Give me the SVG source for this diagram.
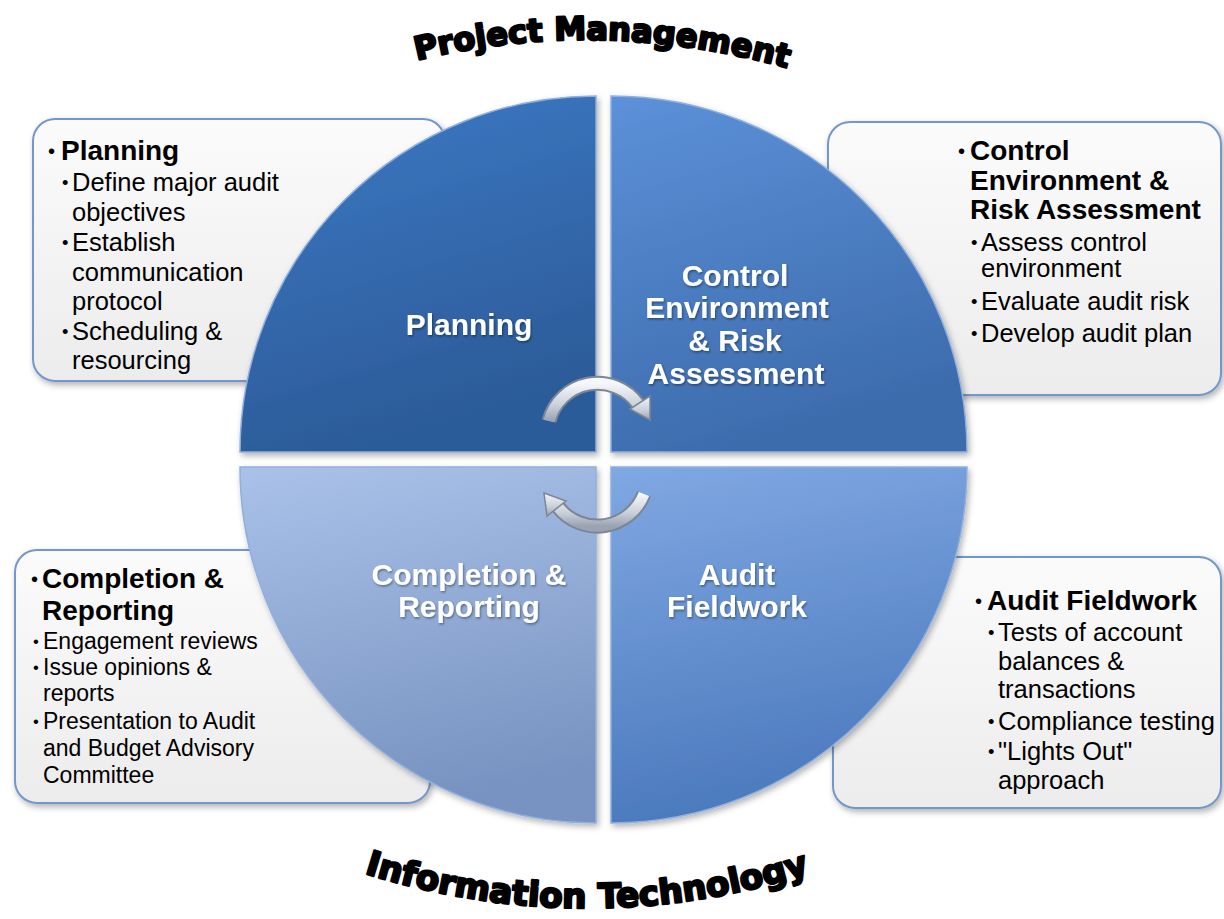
<svg xmlns="http://www.w3.org/2000/svg" width="1224" height="919" viewBox="0 0 1224 919">
<defs>
<style>
.box{stroke:#7397cb;stroke-width:2;fill:url(#boxg);filter:url(#sh)}
.h{font-family:"Liberation Sans",Arial,sans-serif;font-weight:bold;font-size:28px;fill:#000}
.s{font-family:"Liberation Sans",Arial,sans-serif;font-size:25.5px;fill:#000}
.s2{font-family:"Liberation Sans",Arial,sans-serif;font-size:23px;fill:#000}
.b{font-size:0.72em;font-weight:normal;baseline-shift:2px}
.q{font-family:"Liberation Sans",Arial,sans-serif;font-weight:bold;font-size:30px;fill:#fff;text-anchor:middle;filter:url(#tsh)}
.quad{stroke:#8fb0de;stroke-width:1.5;filter:url(#sh)}
.title{font-family:"DejaVu Sans",Verdana,sans-serif;font-weight:bold;fill:#000;stroke:#000;stroke-width:2.4;stroke-linejoin:round;text-anchor:middle}
.arr{fill:none;stroke:#7c8696;stroke-width:15}
.arri{fill:none;stroke:url(#ag);stroke-width:11}
.ah{fill:url(#ag);stroke:#7c8696;stroke-width:1.5}
</style>
<linearGradient id="boxg" x1="0" y1="0" x2="0" y2="1"><stop offset="0" stop-color="#fbfbfb"/><stop offset="1" stop-color="#ececec"/></linearGradient>
<linearGradient id="gTL" x1="0" y1="0" x2="0.3" y2="1"><stop offset="0" stop-color="#3d7ac5"/><stop offset="1" stop-color="#2c5b99"/></linearGradient>
<linearGradient id="gTR" x1="0" y1="0" x2="0.3" y2="1"><stop offset="0" stop-color="#5c91d9"/><stop offset="1" stop-color="#3d6cad"/></linearGradient>
<linearGradient id="gBL" x1="0" y1="0" x2="0.2" y2="1"><stop offset="0" stop-color="#aac2e9"/><stop offset="1" stop-color="#7893c1"/></linearGradient>
<linearGradient id="gBR" x1="0" y1="0" x2="0.2" y2="1"><stop offset="0" stop-color="#80a8e2"/><stop offset="1" stop-color="#4b79bd"/></linearGradient>
<linearGradient id="ag" x1="0" y1="0" x2="0" y2="1"><stop offset="0" stop-color="#f6f7fa"/><stop offset="0.6" stop-color="#c9cfd9"/><stop offset="1" stop-color="#9aa3b2"/></linearGradient>
<filter id="sh" x="-10%" y="-10%" width="125%" height="125%"><feDropShadow dx="2" dy="3" stdDeviation="3" flood-color="#000" flood-opacity="0.3"/></filter>
<filter id="tsh" x="-10%" y="-20%" width="125%" height="150%"><feDropShadow dx="1" dy="1.5" stdDeviation="1" flood-color="#000" flood-opacity="0.4"/></filter>
<path id="arcTop" d="M 410 62 Q 600 14 794 70"/>
<path id="arcBot" d="M 348 868 Q 588 948 826 868"/>
</defs>

<g id="title-top"><text class="title" font-size="32"><textPath href="#arcTop" startOffset="50%">Project Management</textPath></text></g>
<g id="title-bottom"><text class="title" font-size="34"><textPath href="#arcBot" startOffset="50%">Information Technology</textPath></text></g>

<g id="box-planning">
<rect class="box" x="33" y="119" width="412" height="262" rx="22"/>
<text class="h" y="160"><tspan class="b" x="48">•</tspan><tspan x="61">Planning</tspan></text>
<text class="s" y="191"><tspan class="b" x="62">•</tspan><tspan x="72">Define major audit</tspan></text>
<text class="s" x="72" y="221">objectives</text>
<text class="s" y="251"><tspan class="b" x="62">•</tspan><tspan x="72">Establish</tspan></text>
<text class="s" x="72" y="281">communication</text>
<text class="s" x="72" y="310">protocol</text>
<text class="s" y="340"><tspan class="b" x="62">•</tspan><tspan x="72">Scheduling &amp;</tspan></text>
<text class="s" x="72" y="369">resourcing</text>
</g>

<g id="box-control">
<rect class="box" x="828" y="122" width="393" height="273" rx="22"/>
<text class="h" y="160"><tspan class="b" x="958">•</tspan><tspan x="970">Control</tspan></text>
<text class="h" x="970" y="190">Environment &amp;</text>
<text class="h" x="970" y="219">Risk Assessment</text>
<text class="s" y="251"><tspan class="b" x="971">•</tspan><tspan x="981">Assess control</tspan></text>
<text class="s" x="981" y="277">environment</text>
<text class="s" y="310"><tspan class="b" x="971">•</tspan><tspan x="981">Evaluate audit risk</tspan></text>
<text class="s" y="342"><tspan class="b" x="971">•</tspan><tspan x="981">Develop audit plan</tspan></text>
</g>

<g id="box-completion">
<rect class="box" x="15" y="550" width="415" height="253" rx="22"/>
<text class="h" y="588"><tspan class="b" x="31">•</tspan><tspan x="42">Completion &amp;</tspan></text>
<text class="h" x="42" y="620">Reporting</text>
<text class="s2" y="649"><tspan class="b" x="33">•</tspan><tspan x="43">Engagement reviews</tspan></text>
<text class="s2" y="675"><tspan class="b" x="33">•</tspan><tspan x="43">Issue opinions &amp;</tspan></text>
<text class="s2" x="43" y="701">reports</text>
<text class="s2" y="729"><tspan class="b" x="33">•</tspan><tspan x="43">Presentation to Audit</tspan></text>
<text class="s2" x="43" y="756">and Budget Advisory</text>
<text class="s2" x="43" y="783">Committee</text>
</g>

<g id="box-fieldwork">
<rect class="box" x="833" y="557" width="388" height="251" rx="22"/>
<text class="h" y="610"><tspan class="b" x="975">•</tspan><tspan x="987">Audit Fieldwork</tspan></text>
<text class="s" y="641"><tspan class="b" x="988">•</tspan><tspan x="998">Tests of account</tspan></text>
<text class="s" x="998" y="670">balances &amp;</text>
<text class="s" x="998" y="698">transactions</text>
<text class="s" y="730"><tspan class="b" x="988">•</tspan><tspan x="998">Compliance testing</tspan></text>
<text class="s" y="760"><tspan class="b" x="988">•</tspan><tspan x="998">"Lights Out"</tspan></text>
<text class="s" x="998" y="789">approach</text>
</g>

<g id="q-planning">
<path class="quad" fill="url(#gTL)" d="M 596 452 L 240 452 A 356 356 0 0 1 596 96 Z"/>
<text class="q" x="469" y="335">Planning</text>
</g>
<g id="q-control">
<path class="quad" fill="url(#gTR)" d="M 611 452 L 611 96 A 356 356 0 0 1 967 452 Z"/>
<text class="q" x="735" y="286">Control</text>
<text class="q" x="737" y="318">Environment</text>
<text class="q" x="735" y="351">&amp; Risk</text>
<text class="q" x="736" y="384">Assessment</text>
</g>
<g id="q-completion">
<path class="quad" fill="url(#gBL)" d="M 596 467 L 596 823 A 356 356 0 0 1 240 467 Z"/>
<text class="q" x="469" y="585">Completion &amp;</text>
<text class="q" x="469" y="617">Reporting</text>
</g>
<g id="q-fieldwork">
<path class="quad" fill="url(#gBR)" d="M 611 467 L 967 467 A 356 356 0 0 1 611 823 Z"/>
<text class="q" x="737" y="585">Audit</text>
<text class="q" x="737" y="617">Fieldwork</text>
</g>

<g id="connectors">
<path class="arr" d="M 549 421 A 50 50 0 0 1 638 404"/>
<path class="arri" d="M 549 421 A 50 50 0 0 1 638 404"/>
<polygon class="ah" points="650,420 630,409 650,396"/>
<path class="arr" d="M 644 494 A 50 50 0 0 1 558 507"/>
<path class="arri" d="M 644 494 A 50 50 0 0 1 558 507"/>
<polygon class="ah" points="544,493 566,501 547,516"/>
</g>
</svg>
